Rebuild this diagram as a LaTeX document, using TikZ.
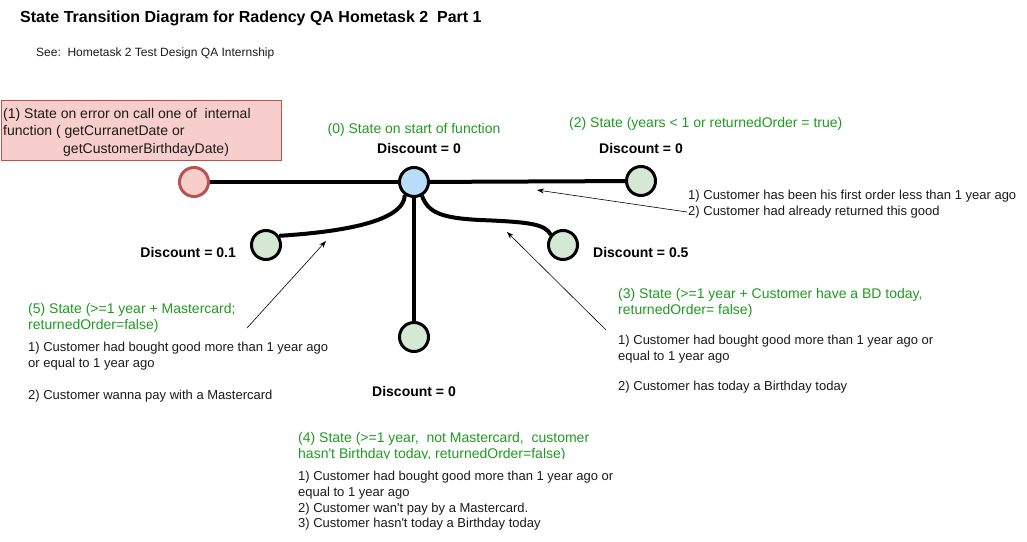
\documentclass[tikz,border=0pt]{standalone}
\usepackage{fontspec}
\newfontfamily\arialish{Liberation Sans}
\usetikzlibrary{arrows.meta,backgrounds}
\definecolor{errfill}{HTML}{F8CECC}
\definecolor{errline}{HTML}{B85450}
\definecolor{okfill}{HTML}{D5E8D4}
\definecolor{startfill}{HTML}{B9DCF7}
\definecolor{stategreen}{HTML}{1F9A1F}
\definecolor{notegray}{HTML}{1A1A1A}
\begin{document}
\begin{tikzpicture}[x=1pt,y=-1pt,
  statecirc/.style={circle, line width=3pt, minimum size=29pt, inner sep=0pt},
  okstate/.style={statecirc, draw=black, fill=okfill},
  trans/.style={line width=4pt},
  note/.style={-{Stealth[length=7pt,width=5pt]}, line width=0.6pt},
  txt/.style={inner sep=0pt, font=\arialish\fontsize{14}{16}\selectfont},
  disc/.style={txt, font=\arialish\fontsize{14}{16}\selectfont\bfseries},
  greentxt/.style={txt, text=stategreen},
  notetxt/.style={txt, text=notegray, font=\arialish\fontsize{13}{16}\selectfont},
]
\useasboundingbox (0,0) rectangle (1027,541);

% title
\node[anchor=base west, inner sep=0pt, font=\arialish\fontsize{16}{19}\selectfont\bfseries] (title) at (20,22) {State Transition Diagram for Radency QA Hometask 2\ \ Part 1};
\node[anchor=base west, inner sep=0pt, font=\arialish\fontsize{12}{14}\selectfont, text=notegray] (see) at (36,56.3) {See:\ \ Hometask 2 Test Design QA Internship};

% error box
\node[draw=errline, fill=errfill, line width=1pt, minimum width=280pt, minimum height=60pt, anchor=north west, inner sep=0pt] (errbox) at (1,100) {};
\node[txt, text=notegray, anchor=north west, align=left, font=\arialish\fontsize{14}{17.5}\selectfont] (errtext) at (3,107.8) {(1) State on error on call one of\ \ internal\\function ( getCurranetDate or\\\hspace*{60pt}getCustomerBirthdayDate)};

% states
\node[statecirc, draw=errline, fill=errfill] (s1) at (194,182) {};
\node[statecirc, draw=black, fill=startfill] (s0) at (414,182) {};
\node[okstate] (s2) at (641,181) {};
\node[okstate] (s5) at (266,245) {};
\node[okstate] (s3) at (563,245) {};
\node[okstate] (s4) at (414,337) {};

% transitions
\begin{scope}[on background layer]
\draw[trans] (s1.center) -- (s0.center);
\draw[trans] (s0.center) -- (s2.center);
\draw[trans] (s0.center) -- (s4.center);
\end{scope}
\draw[trans] (s0.235) .. controls (404,222) and (340,232) .. (s5.35);
\draw[trans] (s0.300) .. controls (428,212) and (440,218) .. (480,220) .. controls (530,222) and (545,224) .. (s3.140);

% note arrows
\coordinate (a2t) at (687,212);
\coordinate (a2h) at (537,190);
\coordinate (a5t) at (247,328);
\coordinate (a5h) at (326,241);
\coordinate (a3t) at (606,330);
\coordinate (a3h) at (507,232);
\draw[note] (a2t) -- (a2h);
\draw[note] (a5t) -- (a5h);
\draw[note] (a3t) -- (a3h);

% labels
\node[greentxt, anchor=base] (l0) at (414,133) {(0) State on start of function};
\node[disc, anchor=base] (d0) at (419,153) {Discount = 0};
\node[greentxt, anchor=base west] (l2) at (569,127) {(2) State (years < 1 or returnedOrder = true)};
\node[disc, anchor=base] (d2) at (641,153) {Discount = 0};
\node[notetxt, anchor=north west, align=left, font=\arialish\fontsize{13}{15.5}\selectfont] (n2) at (688,190.2) {1) Customer has been his first order less than 1 year ago\\2) Customer had already returned this good};
\node[disc, anchor=base east] (d5) at (236,257) {Discount = 0.1};
\node[disc, anchor=base west] (d3) at (593,257) {Discount = 0.5};
\node[disc, anchor=base] (d4) at (414,396) {Discount = 0};

\node[greentxt, anchor=north west, align=left] (l5) at (28,303.5) {(5) State (>=1 year + Mastercard;\\returnedOrder=false)};
\node[notetxt, anchor=north west, align=left] (n5) at (28,342.2) {1) Customer had bought good more than 1 year ago\\or equal to 1 year ago\\[16pt]2) Customer wanna pay with a Mastercard};

\node[greentxt, anchor=north west, align=left] (l3) at (618,287.8) {(3) State (>=1 year + Customer have a BD today,\\returnedOrder= false)};
\node[notetxt, anchor=north west, align=left, font=\arialish\fontsize{13}{15.5}\selectfont] (n3) at (618,335.2) {1) Customer had bought good more than 1 year ago or\\equal to 1 year ago\\[15pt]2) Customer has today a Birthday today};

\begin{scope}
\clip (280,420) rectangle (720,458.5);
\node[greentxt, anchor=north west, align=left] (l4) at (298,431.8) {(4) State (>=1 year,\ \ not Mastercard,\ \ customer\\hasn't Birthday today, returnedOrder=false)};
\end{scope}
\node[notetxt, anchor=north west, align=left, font=\arialish\fontsize{13}{15.7}\selectfont] (n4) at (298,471.2) {1) Customer had bought good more than 1 year ago or\\equal to 1 year ago\\2) Customer wan't pay by a Mastercard.\\3) Customer hasn't today a Birthday today};
\end{tikzpicture}
\end{document}
